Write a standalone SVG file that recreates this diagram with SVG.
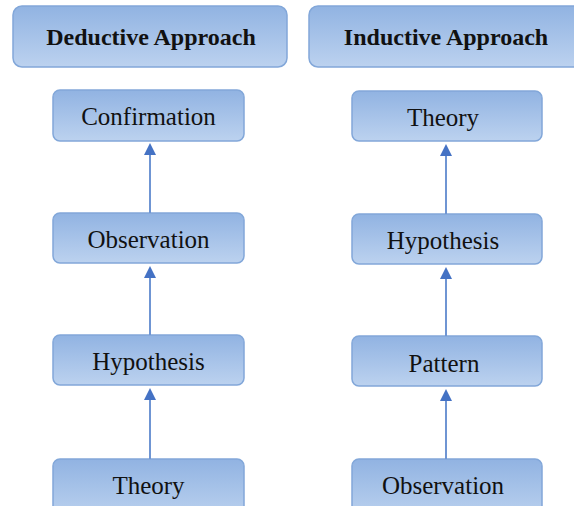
<svg xmlns="http://www.w3.org/2000/svg" width="574" height="506" viewBox="0 0 574 506">
<defs>
<linearGradient id="g" x1="0" y1="0" x2="0" y2="1">
<stop offset="0" stop-color="#91b3e2"/>
<stop offset="1" stop-color="#bcd2ef"/>
</linearGradient>
</defs>
<rect width="574" height="506" fill="#fff"/>
<g fill="url(#g)" stroke="#82a7d9" stroke-width="1.5">
<g id="deductive-header"><rect x="13" y="6" width="274" height="61" rx="9"/></g>
<g id="inductive-header"><rect x="309" y="6" width="276" height="61" rx="9"/></g>
<g id="d-confirmation"><rect x="53" y="90" width="191" height="51" rx="7"/></g>
<g id="d-observation"><rect x="53" y="213" width="191" height="50" rx="7"/></g>
<g id="d-hypothesis"><rect x="53" y="335" width="191" height="50" rx="7"/></g>
<g id="d-theory"><rect x="53" y="459" width="191" height="60" rx="7"/></g>
<g id="i-theory"><rect x="352" y="91" width="190" height="50" rx="7"/></g>
<g id="i-hypothesis"><rect x="352" y="214" width="190" height="50" rx="7"/></g>
<g id="i-pattern"><rect x="352" y="336" width="190" height="50" rx="7"/></g>
<g id="i-observation"><rect x="352" y="459" width="190" height="60" rx="7"/></g>
</g>
<g id="labels" font-family="Liberation Serif" fill="#111" text-anchor="middle" font-size="25">
<text x="151" y="45" font-size="24" font-weight="bold">Deductive Approach</text>
<text x="446" y="45" font-size="24" font-weight="bold">Inductive Approach</text>
<text x="148.5" y="125">Confirmation</text>
<text x="148.5" y="248">Observation</text>
<text x="148.5" y="370">Hypothesis</text>
<text x="148.5" y="494">Theory</text>
<text x="443" y="126">Theory</text>
<text x="443" y="249">Hypothesis</text>
<text x="444" y="372">Pattern</text>
<text x="443" y="494">Observation</text>
</g>
<g id="connectors">
<g stroke="#6f95d3" stroke-width="2" fill="none">
<line x1="150" y1="213" x2="150" y2="154"/>
<line x1="150" y1="335" x2="150" y2="277"/>
<line x1="150" y1="459" x2="150" y2="399"/>
<line x1="446" y1="214" x2="446" y2="155"/>
<line x1="446" y1="336" x2="446" y2="278"/>
<line x1="446" y1="459" x2="446" y2="400"/>
</g>
<g fill="#4472c4">
<path d="M144,155 L150,143 L156,155 Z"/>
<path d="M144,278 L150,266 L156,278 Z"/>
<path d="M144,400 L150,388 L156,400 Z"/>
<path d="M440,156 L446,144 L452,156 Z"/>
<path d="M440,279 L446,267 L452,279 Z"/>
<path d="M440,401 L446,389 L452,401 Z"/>
</g>
</g>
</svg>
